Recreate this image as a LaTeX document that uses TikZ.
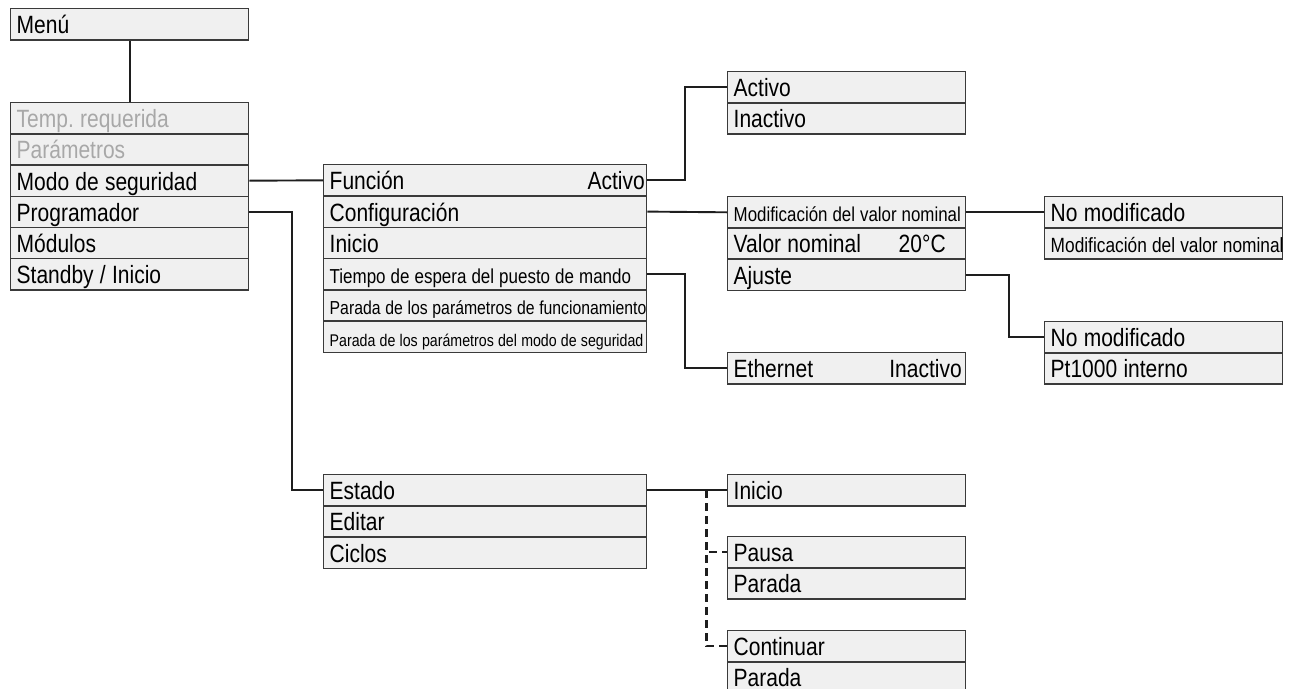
\documentclass[tikz,border=0pt]{standalone}
\usepackage{fontspec}
\setmainfont[FakeStretch=0.84]{Liberation Sans}
\usetikzlibrary{calc,positioning}
\definecolor{BoxFill}{HTML}{F0F0F0}
\definecolor{LineGray}{HTML}{3A3A3A}
\definecolor{TextGray}{HTML}{A8A8A8}
\definecolor{WireBlack}{HTML}{1E1E1E}
\frenchspacing

% one line of a menu, never wrapped; \hfill pushes a value to the right
\newcommand{\menuline}[2][25]{\fontsize{#1}{#1}\selectfont\spaceskip=0.25em\relax
  \hbox to\linewidth{#2\hfil}}

\begin{document}
\begin{tikzpicture}[
  x=1pt, y=-1pt,
  line cap=butt, line join=miter,
  row/.style={draw=LineGray, fill=BoxFill, line width=1.4pt, anchor=north west,
    minimum height=31.2pt, inner xsep=6pt, inner ysep=0pt, align=left,
    text height=20pt, text depth=1.2pt},
  narrow/.style={text width=226pt},
  wide/.style={text width=311pt},
  link/.style={WireBlack, line width=1.9pt},
  fork/.style={WireBlack, line width=2.2pt, dash pattern=on 8pt off 5pt}
]

% Background
\fill[white] (0,0) rectangle (1295,688);
\useasboundingbox (0,0) rectangle (1295,688);

% === Top level ===
\node[row, narrow] (menu1) at (10,8) {\menuline{Menú}};

\foreach \txt/\col [count=\i] in {
  Temp. requerida/TextGray,
  Parámetros/TextGray,
  Modo de seguridad/black,
  Programador/black,
  Módulos/black,
  {Standby / Inicio}/black%
}{
  \node[row, narrow, text=\col] (main\i) at (10,{102+31.2*(\i-1)}) {\menuline{\txt}};
}

% === Modo de seguridad submenu ===
\foreach \txt/\fs [count=\i] in {
  Función\hfill Activo\hspace*{-4pt}/25,
  Configuración/25,
  Inicio/25,
  Tiempo de espera del puesto de mando/20.2,
  Parada de los parámetros de funcionamiento/18.8,
  Parada de los parámetros del modo de seguridad/16.9%
}{
  \node[row, wide] (func\i) at (323,{164+31.3*(\i-1)}) {\menuline[\fs]{\txt}};
}

% Function state
\foreach \txt [count=\i] in {Activo, Inactivo} {
  \node[row, narrow] (act\i) at (727,{71+31.2*(\i-1)}) {\menuline{\txt}};
}

% Configuration
\foreach \txt/\fs [count=\i] in {
  Modificación del valor nominal/20.1,
  Valor nominal\hfill 20°C\hspace*{14pt}/25,
  Ajuste/25%
}{
  \node[row, narrow] (conf\i) at (727,{196+31.2*(\i-1)}) {\menuline[\fs]{\txt}};
}

\foreach \txt/\fs [count=\i] in {No modificado/25, Modificación del valor nominal/20.6} {
  \node[row, narrow] (nom\i) at (1044,{196+31.2*(\i-1)}) {\menuline[\fs]{\txt}};
}

\foreach \txt [count=\i] in {No modificado, Pt1000 interno} {
  \node[row, narrow] (adj\i) at (1044,{321+31.2*(\i-1)}) {\menuline{\txt}};
}

% Control station timeout
\node[row, narrow] (eth1) at (727,352) {\menuline{Ethernet\hfill Inactivo\hspace*{-2pt}}};

% === Programador submenu ===
\foreach \txt [count=\i] in {Estado, Editar, Ciclos} {
  \node[row, wide] (prog\i) at (323,{474+31.2*(\i-1)}) {\menuline{\txt}};
}

\node[row, narrow] (start1) at (727,474) {\menuline{Inicio}};

\foreach \txt [count=\i] in {Pausa, Parada} {
  \node[row, narrow] (pause\i) at (727,{536+31.2*(\i-1)}) {\menuline{\txt}};
}

\foreach \txt [count=\i] in {Continuar, Parada} {
  \node[row, narrow] (cont\i) at (727,{630+31.2*(\i-1)}) {\menuline{\txt}};
}

% === Connectors ===
\draw[link] (menu1) -- (main1);
\draw[link] (main3.east) -- (func1.west);
\draw[link] (main4.east) -- ++(43,0) |- (prog1.west);

\draw[link] (func1.east) -- ++(38,0) |- (act1.west);
\draw[link] (func2.east) -- (conf1.west);
\draw[link] (func4.east) -- ++(38,0) |- (eth1.west);

\draw[link] (conf1.east) -- (nom1.west);
\draw[link] (conf3.east) -- ++(43,0) |- (adj1.west);

\draw[link] (prog1.east) -- (start1.west);

% Dashed branches from the state line
\coordinate (split) at ([xshift=59pt]prog1.east);
\draw[fork] (split) |- (pause1.west);
\draw[fork] (split) |- (cont1.west);

\end{tikzpicture}
\end{document}
